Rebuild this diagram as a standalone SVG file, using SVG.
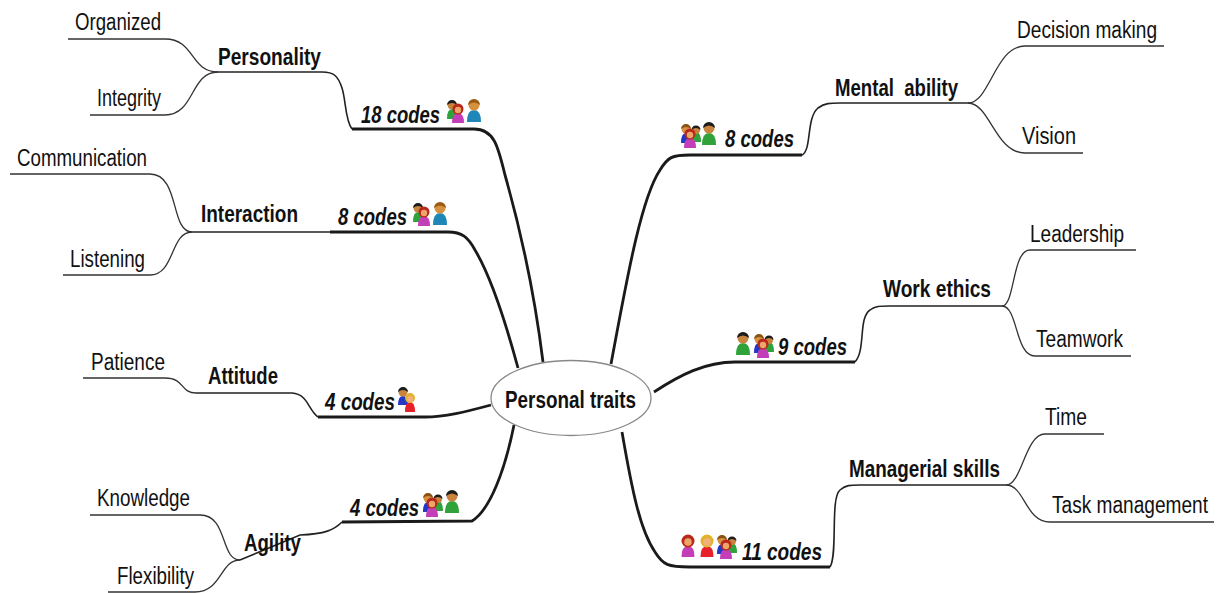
<svg xmlns="http://www.w3.org/2000/svg" width="1218" height="593" viewBox="0 0 1218 593">
<style>
text{font-family:"Liberation Sans",Arial,sans-serif;fill:#111;font-size:23px}
.b{font-weight:bold}
.c{font-weight:bold;font-style:italic}
.thin{fill:none;stroke:#333;stroke-width:1.3}
.mid{fill:none;stroke:#222;stroke-width:1.6}
.thick{fill:none;stroke:#1a1a1a;stroke-width:2.8}
.skin{fill:#e8a868}
</style>
<defs>
<g id="pBlack"><path d="M-7 20Q-7 8 0 8Q7 8 7 20Z" fill="#2fa33a"/><circle cx="0" cy="3" r="5.5" class="skin" style="fill:#c8843c"/><path d="M-6 3A6 6 0 0 1 6 3Q0 -2 -6 3Z" fill="#1c1c1c"/></g>
<g id="pBrown"><path d="M-7 20Q-7 8 0 8Q7 8 7 20Z" fill="#1f86b8"/><circle cx="0" cy="3" r="5.5" style="fill:#d6913f"/><path d="M-6 3A6 6 0 0 1 6 3Q0 -2 -6 3Z" fill="#9a5a14"/></g>
<g id="pRed"><path d="M-6.500 20Q-6.500 9 0 9Q6.500 9 6.500 20Z" fill="#c33fb8"/><circle cx="0" cy="4" r="6.500" fill="#b9281c"/><circle cx="0" cy="5" r="3.800" fill="#eda56a"/></g>
<g id="pBlonde"><path d="M-6.500 20Q-6.500 9 0 9Q6.500 9 6.500 20Z" fill="#e6212a"/><circle cx="0" cy="4" r="6.500" fill="#e2b22e"/><circle cx="0" cy="5" r="3.800" fill="#f0b27a"/></g>
<g id="group">
<path d="M-9 15Q-9 5 -4 5Q1 5 1 15Z" fill="#2338c4"/><circle cx="-4" cy="1" r="4.500" fill="#d6913f"/><path d="M-9 1A5 5 0 0 1 1 1Q-4 -3 -9 1Z" fill="#8a5214"/>
<path d="M2 14Q2 4 6 4Q11 4 11 14Z" fill="#2fa33a"/><circle cx="6" cy="2" r="4" fill="#c8843c"/><path d="M1.500 2A4.500 4.500 0 0 1 10.500 2Q6 -2 1.500 2Z" fill="#1c1c1c"/>
<path d="M-6 20Q-6 10 0 10Q6 10 6 20Z" fill="#c33fb8"/><circle cx="0" cy="6" r="5.500" fill="#b9281c"/><circle cx="0" cy="7" r="3.200" fill="#eda56a"/>
</g>
<g id="couple"><path d="M-8 13Q-8 4 -3 4Q2 4 2 13Z" fill="#2338c4"/><circle cx="-3" cy="0" r="4.500" fill="#c8843c"/><path d="M-8 0A5 5 0 0 1 2 0Q-3 -4 -8 0Z" fill="#1c1c1c"/><path d="M-1 20Q-1 10 4 10Q9 10 9 20Z" fill="#e6212a"/><circle cx="4" cy="6" r="5" fill="#e2b22e"/><circle cx="4" cy="7" r="3" fill="#f0b27a"/></g>
<g id="duo"><path d="M-8 16Q-8 6 -3 6Q2 6 2 16Z" fill="#2fa33a"/><circle cx="-3" cy="2" r="4.500" fill="#c8843c"/><path d="M-8 2A5 5 0 0 1 2 2Q-3 -2 -8 2Z" fill="#1c1c1c"/><path d="M-3 20Q-3 10 3 10Q9 10 9 20Z" fill="#c33fb8"/><circle cx="3" cy="6" r="5.500" fill="#b9281c"/><circle cx="3" cy="7" r="3.200" fill="#eda56a"/></g>
</defs>

<g id="connectors">
<path class="thick" d="M543 362C536 305 522 235 505 175C498 146 494 129 474 129L352 129"/>
<path class="thick" d="M518 368C505 320 490 275 475 250C468 237 462 232 448 232L330 232"/>
<path class="thick" d="M491 405C465 412 445 417 425 417L318 417"/>
<path class="thick" d="M514 425C505 470 490 510 472 521L342 522"/>
<path class="thick" d="M611 364C625 290 640 200 660 170C668 157 672 155 690 155L802 155"/>
<path class="thick" d="M654 392C680 375 705 362 735 362L855 362"/>
<path class="thick" d="M622 432C632 490 640 530 655 552C663 565 668 567 690 567L830 567"/>

<path class="mid" d="M352 129C345 120 346 100 342 88C338 76 334 72 322 72L218 72"/>
<path class="mid" d="M330 232L192 232"/>
<path class="mid" d="M318 417C308 410 308 394 292 393L196 393"/>
<path class="mid" d="M342 522C334 530 325 534 300 535L240 560"/>
<path class="mid" d="M802 155C812 150 806 118 818 108C825 103 830 103 840 103L968 103"/>
<path class="mid" d="M855 362C866 350 858 318 870 310C875 306 880 306 890 306L1002 306"/>
<path class="mid" d="M830 567C838 555 830 498 840 490C846 485 850 485 860 485L1006 485"/>

<path class="thin" d="M68 39L165 39C195 39 190 72 218 72"/>
<path class="thin" d="M90 115L165 115C195 115 190 72 218 72"/>
<path class="thin" d="M10 174L150 174C180 174 170 232 192 232"/>
<path class="thin" d="M63 275L150 275C175 275 170 232 192 232"/>
<path class="thin" d="M83 378L165 378C185 378 180 393 196 393"/>
<path class="thin" d="M90 515L200 515C228 515 220 560 240 560"/>
<path class="thin" d="M108 592L195 592C222 592 220 560 240 560"/>
<path class="thin" d="M1164 46L1025 46C995 46 990 103 968 103"/>
<path class="thin" d="M1083 153L1025 153C995 153 990 103 968 103"/>
<path class="thin" d="M1136 250L1030 250C1012 250 1015 306 1002 306"/>
<path class="thin" d="M1131 356L1035 356C1015 356 1018 306 1002 306"/>
<path class="thin" d="M1104 434L1045 434C1025 434 1022 485 1006 485"/>
<path class="thin" d="M1214 522L1050 522C1025 522 1025 485 1006 485"/>
</g>

<g id="root"><ellipse cx="571" cy="398" rx="80" ry="37.500" fill="#fff" stroke="#888" stroke-width="1.300"/><text class="b" x="505" y="408" textLength="131" lengthAdjust="spacingAndGlyphs">Personal traits</text></g>

<g id="personality"><text class="b" x="218" y="65" textLength="103" lengthAdjust="spacingAndGlyphs">Personality</text></g>
<g id="organized"><text x="75" y="30" textLength="86" lengthAdjust="spacingAndGlyphs">Organized</text></g>
<g id="integrity"><text x="97" y="106" textLength="64" lengthAdjust="spacingAndGlyphs">Integrity</text></g>
<g id="codes18"><text class="c" x="361" y="123" textLength="79" lengthAdjust="spacingAndGlyphs">18 codes</text><use href="#duo" x="455" y="103"/><use href="#pBrown" x="474" y="102"/></g>

<g id="interaction"><text class="b" x="201" y="222" textLength="97" lengthAdjust="spacingAndGlyphs">Interaction</text></g>
<g id="communication"><text x="17" y="166" textLength="130" lengthAdjust="spacingAndGlyphs">Communication</text></g>
<g id="listening"><text x="70" y="267" textLength="75" lengthAdjust="spacingAndGlyphs">Listening</text></g>
<g id="codes8a"><text class="c" x="338" y="225" textLength="69" lengthAdjust="spacingAndGlyphs">8 codes</text><use href="#duo" x="421" y="206"/><use href="#pBrown" x="440" y="205"/></g>

<g id="attitude"><text class="b" x="208" y="384" textLength="70" lengthAdjust="spacingAndGlyphs">Attitude</text></g>
<g id="patience"><text x="91" y="370" textLength="74" lengthAdjust="spacingAndGlyphs">Patience</text></g>
<g id="codes4a"><text class="c" x="325" y="410" textLength="70" lengthAdjust="spacingAndGlyphs">4 codes</text><use href="#couple" x="406" y="392"/></g>

<g id="agility"><text class="b" x="244" y="551" textLength="57" lengthAdjust="spacingAndGlyphs">Agility</text></g>
<g id="knowledge"><text x="97" y="506" textLength="93" lengthAdjust="spacingAndGlyphs">Knowledge</text></g>
<g id="flexibility"><text x="117" y="584" textLength="77" lengthAdjust="spacingAndGlyphs">Flexibility</text></g>
<g id="codes4b"><text class="c" x="350" y="516" textLength="69" lengthAdjust="spacingAndGlyphs">4 codes</text><use href="#group" x="432" y="497"/><use href="#pBlack" x="452" y="493"/></g>

<g id="mental"><text class="b" x="835" y="96" textLength="123" lengthAdjust="spacingAndGlyphs" xml:space="preserve">Mental  ability</text></g>
<g id="decision"><text x="1017" y="38" textLength="140" lengthAdjust="spacingAndGlyphs">Decision making</text></g>
<g id="vision"><text x="1022" y="144" textLength="54" lengthAdjust="spacingAndGlyphs">Vision</text></g>
<g id="codes8b"><text class="c" x="725" y="147" textLength="69" lengthAdjust="spacingAndGlyphs">8 codes</text><use href="#group" x="690" y="128"/><use href="#pBlack" x="709" y="125"/></g>

<g id="workethics"><text class="b" x="883" y="297" textLength="108" lengthAdjust="spacingAndGlyphs">Work ethics</text></g>
<g id="leadership"><text x="1030" y="242" textLength="94" lengthAdjust="spacingAndGlyphs">Leadership</text></g>
<g id="teamwork"><text x="1036" y="347" textLength="87" lengthAdjust="spacingAndGlyphs">Teamwork</text></g>
<g id="codes9"><text class="c" x="778" y="355" textLength="69" lengthAdjust="spacingAndGlyphs">9 codes</text><use href="#pBlack" x="743" y="335"/><use href="#group" x="763" y="338"/></g>

<g id="managerial"><text class="b" x="849" y="477" textLength="151" lengthAdjust="spacingAndGlyphs">Managerial skills</text></g>
<g id="time"><text x="1045" y="425" textLength="42" lengthAdjust="spacingAndGlyphs">Time</text></g>
<g id="task"><text x="1052" y="513" textLength="156" lengthAdjust="spacingAndGlyphs">Task management</text></g>
<g id="codes11"><text class="c" x="742" y="560" textLength="80" lengthAdjust="spacingAndGlyphs">11 codes</text><use href="#pRed" x="688" y="537"/><use href="#pBlonde" x="707" y="537"/><use href="#group" x="726" y="539"/></g>
</svg>
